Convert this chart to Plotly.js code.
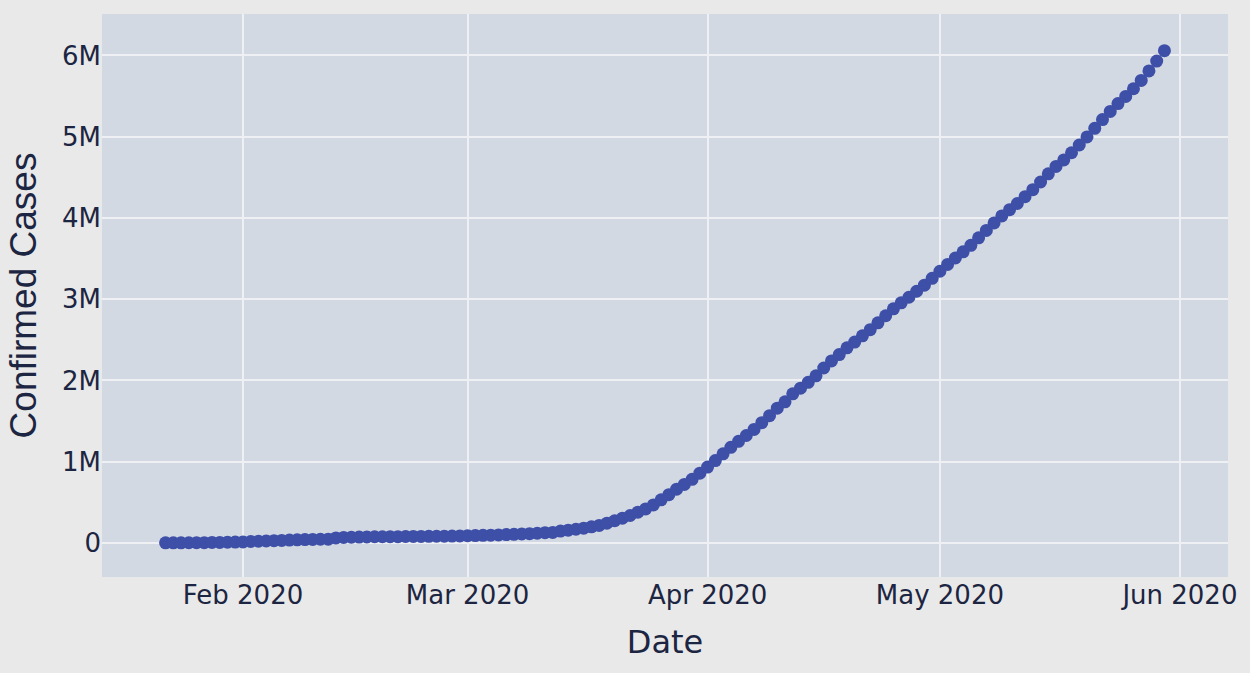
<!DOCTYPE html>
<html>
<head>
<meta charset="utf-8">
<script src="https://cdn.plot.ly/plotly-3.0.1.min.js"></script>
<style>
  html, body { margin: 0; padding: 0; background: #e9e9e9; }
  #grafico { width: 1250px; height: 673px; }
</style>
</head>
<body>
<div id="grafico"></div>
<script>
'use strict';

/* Casos confirmados acumulados - enero a mayo 2020 */

let fechas = [
    '2020-01-22', '2020-01-23', '2020-01-24', '2020-01-25', '2020-01-26', '2020-01-27', '2020-01-28', '2020-01-29', '2020-01-30', '2020-01-31',
    '2020-02-01', '2020-02-02', '2020-02-03', '2020-02-04', '2020-02-05', '2020-02-06', '2020-02-07', '2020-02-08', '2020-02-09', '2020-02-10',
    '2020-02-11', '2020-02-12', '2020-02-13', '2020-02-14', '2020-02-15', '2020-02-16', '2020-02-17', '2020-02-18', '2020-02-19', '2020-02-20',
    '2020-02-21', '2020-02-22', '2020-02-23', '2020-02-24', '2020-02-25', '2020-02-26', '2020-02-27', '2020-02-28', '2020-02-29',
    '2020-03-01', '2020-03-02', '2020-03-03', '2020-03-04', '2020-03-05', '2020-03-06', '2020-03-07', '2020-03-08', '2020-03-09', '2020-03-10',
    '2020-03-11', '2020-03-12', '2020-03-13', '2020-03-14', '2020-03-15', '2020-03-16', '2020-03-17', '2020-03-18', '2020-03-19', '2020-03-20',
    '2020-03-21', '2020-03-22', '2020-03-23', '2020-03-24', '2020-03-25', '2020-03-26', '2020-03-27', '2020-03-28', '2020-03-29', '2020-03-30', '2020-03-31',
    '2020-04-01', '2020-04-02', '2020-04-03', '2020-04-04', '2020-04-05', '2020-04-06', '2020-04-07', '2020-04-08', '2020-04-09', '2020-04-10',
    '2020-04-11', '2020-04-12', '2020-04-13', '2020-04-14', '2020-04-15', '2020-04-16', '2020-04-17', '2020-04-18', '2020-04-19', '2020-04-20',
    '2020-04-21', '2020-04-22', '2020-04-23', '2020-04-24', '2020-04-25', '2020-04-26', '2020-04-27', '2020-04-28', '2020-04-29', '2020-04-30',
    '2020-05-01', '2020-05-02', '2020-05-03', '2020-05-04', '2020-05-05', '2020-05-06', '2020-05-07', '2020-05-08', '2020-05-09', '2020-05-10',
    '2020-05-11', '2020-05-12', '2020-05-13', '2020-05-14', '2020-05-15', '2020-05-16', '2020-05-17', '2020-05-18', '2020-05-19', '2020-05-20',
    '2020-05-21', '2020-05-22', '2020-05-23', '2020-05-24', '2020-05-25', '2020-05-26', '2020-05-27', '2020-05-28', '2020-05-29', '2020-05-30'
];

let casosConfirmados = [
    555, 654, 941, 1434, 2118, 2927, 5578, 6166, 8234, 9927,
    12038, 16787, 19881, 23892, 27635, 30794, 34391, 37120, 40150, 42762,
    44802, 45221, 60368, 66885, 69030, 71224, 73258, 75136, 75639, 76197,
    76819, 78572, 78958, 79561, 80406, 81388, 82746, 84112, 86011,
    88369, 90306, 92840, 95120, 97886, 101801, 105847, 109821, 113590, 118620,
    125875, 128352, 145205, 156101, 167454, 181574, 197102, 214821, 242570, 272208,
    304507, 336953, 378231, 418041, 467653, 529591, 593291, 660706, 720117, 782365, 857487,
    932605, 1013466, 1095917, 1176060, 1249754, 1321481, 1396476, 1479804, 1565278, 1657526,
    1735650, 1834721, 1904838, 1976191, 2056054, 2152437, 2240190, 2317758, 2401378, 2472259,
    2549123, 2624074, 2708885, 2795729, 2881140, 2955033, 3023722, 3097229, 3172287, 3256846,
    3343777, 3427584, 3506729, 3583055, 3662691, 3755341, 3845718, 3938064, 4024009, 4101699,
    4177502, 4261747, 4347018, 4442163, 4542347, 4634068, 4713620, 4801943, 4897492, 4996472,
    5102424, 5210817, 5310362, 5407613, 5495061, 5589626, 5691790, 5808946, 5930891, 6059017
];

let colorTexto = '#1c2541';

graficoCasos();

function graficoCasos() {
    let graph = document.getElementById('grafico');

    let trace = [{
        type: 'scatter',
        mode: 'markers',
        name: 'Confirmed',
        x: fechas,
        y: casosConfirmados,
        marker: { color: '#3e4fa8', size: 13 }
    }];

    let layout = {
        width: 1250,
        height: 673,
        margin: { l: 102, r: 22, t: 14, b: 96 },
        paper_bgcolor: '#e9e9e9',
        plot_bgcolor: '#d3d9e3',
        showlegend: false,
        font: {
            family: 'DejaVu Sans, Verdana, sans-serif',
            size: 26,
            color: colorTexto
        },
        xaxis: {
            type: 'date',
            range: ['2020-01-13 19:00', '2020-06-07 05:00'],
            dtick: 'M1',
            tickformat: '%b %Y',
            showgrid: true,
            gridcolor: '#eef0f3',
            gridwidth: 2,
            zeroline: false,
            ticks: '',
            tickfont: { size: 26, color: colorTexto },
            title: {
                text: 'Date',
                font: { size: 32, color: colorTexto },
                standoff: 21
            }
        },
        yaxis: {
            range: [-420000, 6510000],
            dtick: 1000000,
            showgrid: true,
            gridcolor: '#eef0f3',
            gridwidth: 2,
            zeroline: true,
            zerolinecolor: '#eef0f3',
            zerolinewidth: 2,
            ticks: '',
            tickfont: { size: 26, color: colorTexto },
            title: {
                text: 'Confirmed Cases',
                font: { family: 'Liberation Sans, Arial, sans-serif', size: 37, color: colorTexto },
                standoff: 14
            }
        }
    };

    let config = {
        displayModeBar: false,
        responsive: false
    };

    Plotly.newPlot(graph, trace, layout, config);
}
</script>
</body>
</html>
